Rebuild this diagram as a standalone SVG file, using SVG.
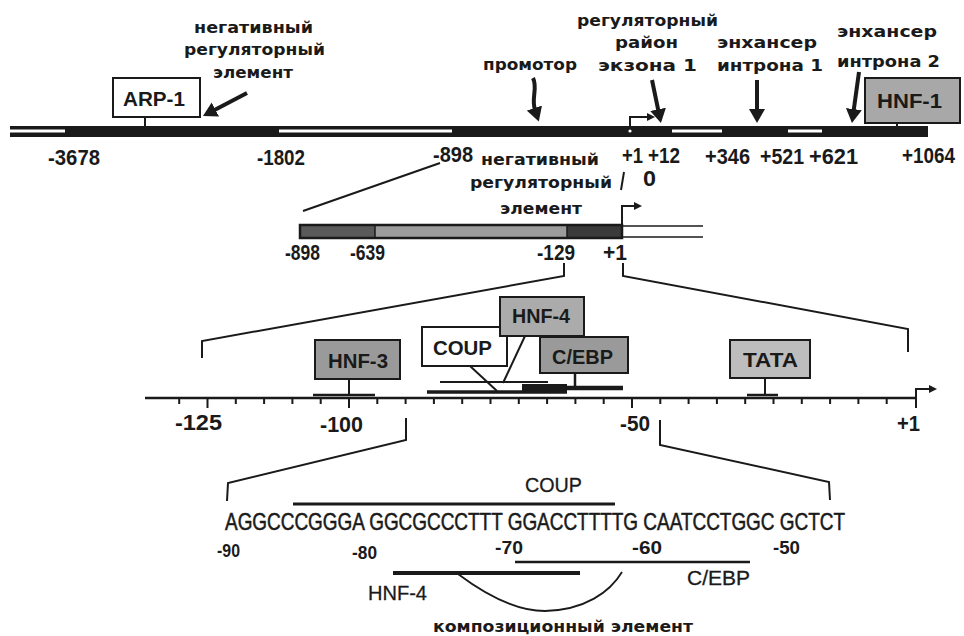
<svg xmlns="http://www.w3.org/2000/svg" width="964" height="636" viewBox="0 0 964 636">
<style>
.cy{font-family:"DejaVu Sans","Noto Sans",sans-serif;font-weight:bold;font-size:16px;fill:#1a1a1a}
.num{font-family:"Liberation Sans",Arial,sans-serif;font-weight:bold;font-size:22px;fill:#1a1a1a}
.snum{font-family:"Liberation Sans",Arial,sans-serif;font-weight:bold;font-size:19px;fill:#1a1a1a}
.lab{font-family:"Liberation Sans",Arial,sans-serif;font-weight:bold;font-size:21px;fill:#1a1a1a}
.seq{font-family:"Liberation Sans",Arial,sans-serif;font-size:19.5px;fill:#1a1a1a;stroke:#1a1a1a;stroke-width:0.45}
.reg{font-family:"Liberation Sans",Arial,sans-serif;font-size:21px;fill:#1a1a1a;stroke:#1a1a1a;stroke-width:0.3}
.box{stroke:#1a1a1a;stroke-width:2}
.ln{stroke:#1a1a1a;fill:none}
</style>
<defs>
<marker id="big" viewBox="0 0 16 16" refX="2" refY="8" markerWidth="16" markerHeight="16" markerUnits="userSpaceOnUse" orient="auto"><path d="M0,0 L14,8 L0,16 z" fill="#1a1a1a"/></marker>
<marker id="sm" viewBox="0 0 8 8" refX="1" refY="4" markerWidth="8" markerHeight="8" markerUnits="userSpaceOnUse" orient="auto"><path d="M0,0 L8,4 L0,8 z" fill="#1a1a1a"/></marker>
</defs>
<rect width="964" height="636" fill="#fff"/>

<g id="gene-band">
<rect x="10" y="126" width="918" height="11" fill="#1a1a1a"/>
<rect x="10" y="129.5" width="55" height="3" fill="#fff"/>
<rect x="279" y="129.5" width="173" height="3" fill="#fff"/>
<rect x="672" y="129.5" width="50" height="3" fill="#fff"/>
<rect x="788" y="129.5" width="34" height="3" fill="#fff"/>
<circle cx="630" cy="131" r="1.6" fill="#fff"/>
<text class="num" x="48" y="165" textLength="52" lengthAdjust="spacingAndGlyphs">-3678</text>
<text class="num" x="257" y="165" textLength="48" lengthAdjust="spacingAndGlyphs">-1802</text>
<text class="num" x="433" y="162" textLength="40" lengthAdjust="spacingAndGlyphs">-898</text>
<text class="num" x="622" y="163" textLength="21" lengthAdjust="spacingAndGlyphs">+1</text>
<text class="num" x="648" y="163" textLength="32" lengthAdjust="spacingAndGlyphs">+12</text>
<text class="num" x="643" y="186" textLength="13" lengthAdjust="spacingAndGlyphs">0</text>
<text class="num" x="705" y="164" textLength="45" lengthAdjust="spacingAndGlyphs">+346</text>
<text class="num" x="760" y="164" textLength="44" lengthAdjust="spacingAndGlyphs">+521</text>
<text class="num" x="809" y="164" textLength="49" lengthAdjust="spacingAndGlyphs">+621</text>
<text class="num" x="902" y="163" textLength="53" lengthAdjust="spacingAndGlyphs">+1064</text>
</g>

<g id="label-neg-top">
<text class="cy" x="194" y="33" textLength="119" lengthAdjust="spacingAndGlyphs">негативный</text>
<text class="cy" x="184" y="55" textLength="141" lengthAdjust="spacingAndGlyphs">регуляторный</text>
<text class="cy" x="213" y="78" textLength="80" lengthAdjust="spacingAndGlyphs">элемент</text>
</g>
<g id="label-promoter">
<text class="cy" x="483" y="70" textLength="94" lengthAdjust="spacingAndGlyphs">промотор</text>
</g>
<g id="label-exon">
<text class="cy" x="577" y="26" textLength="141" lengthAdjust="spacingAndGlyphs">регуляторный</text>
<text class="cy" x="615" y="48" textLength="63" lengthAdjust="spacingAndGlyphs">район</text>
<text class="cy" x="598" y="71" textLength="99" lengthAdjust="spacingAndGlyphs">экзона 1</text>
</g>
<g id="label-intron1">
<text class="cy" x="717" y="48" textLength="100" lengthAdjust="spacingAndGlyphs">энхансер</text>
<text class="cy" x="717" y="71" textLength="106" lengthAdjust="spacingAndGlyphs">интрона 1</text>
</g>
<g id="label-intron2">
<text class="cy" x="837" y="37" textLength="100" lengthAdjust="spacingAndGlyphs">энхансер</text>
<text class="cy" x="837" y="67" textLength="103" lengthAdjust="spacingAndGlyphs">интрона 2</text>
</g>

<g id="ARP-1">
<line class="ln" x1="145" y1="117" x2="145" y2="127" stroke-width="2"/>
<rect class="box" x="113" y="78" width="87" height="39" fill="#fff"/>
<text class="lab" x="123" y="106" textLength="62" lengthAdjust="spacingAndGlyphs">ARP-1</text>
</g>
<g id="HNF-1">
<line class="ln" x1="897" y1="123" x2="897" y2="127" stroke-width="2"/>
<rect class="box" x="865" y="78" width="95" height="45" fill="#a8a8a8"/>
<text class="lab" x="877" y="108" textLength="65" lengthAdjust="spacingAndGlyphs">HNF-1</text>
</g>

<g id="promoter-bar">
<rect x="300" y="225" width="75" height="13" fill="#5a5a5a"/>
<rect x="375" y="225" width="192" height="13" fill="#9c9c9c"/>
<rect x="567" y="225" width="55" height="13" fill="#3a3a3a"/>
<rect x="300" y="225" width="322" height="13" fill="none" stroke="#1a1a1a" stroke-width="2.5"/>
<line class="ln" x1="375" y1="225" x2="375" y2="238" stroke-width="1.5"/>
<line class="ln" x1="567" y1="225" x2="567" y2="238" stroke-width="1.5"/>
<line class="ln" x1="622" y1="226" x2="703" y2="226" stroke-width="1.5"/>
<line class="ln" x1="622" y1="237" x2="703" y2="237" stroke-width="1.5"/>
<text class="num" x="285" y="260" textLength="35" lengthAdjust="spacingAndGlyphs">-898</text>
<text class="num" x="350" y="260" textLength="35" lengthAdjust="spacingAndGlyphs">-639</text>
<text class="num" x="537" y="260" textLength="38" lengthAdjust="spacingAndGlyphs">-129</text>
<text class="num" x="603" y="260" textLength="24" lengthAdjust="spacingAndGlyphs">+1</text>
</g>
<g id="label-neg-mid">
<text class="cy" x="481" y="165" textLength="118" lengthAdjust="spacingAndGlyphs">негативный</text>
<text class="cy" x="470" y="188" textLength="142" lengthAdjust="spacingAndGlyphs">регуляторный</text>
<text class="cy" x="500" y="214" textLength="82" lengthAdjust="spacingAndGlyphs">элемент</text>
</g>

<g id="axis">
<line class="ln" x1="145" y1="398" x2="917" y2="398" stroke-width="2.5"/>
<path class="ln" stroke-width="2" d="M179.2,398v6 M207.5,398v10 M235.8,398v6 M264.1,398v6 M292.4,398v6 M320.7,398v6 M349,398v10 M377.3,398v6 M405.6,398v6 M433.9,398v6 M462.2,398v6 M490.5,398v6 M518.8,398v6 M547.1,398v6 M575.4,398v6 M603.7,398v6 M632,398v10 M660.3,398v6 M688.6,398v6 M716.9,398v6 M745.2,398v6 M773.5,398v6 M801.8,398v6 M830.1,398v6 M858.4,398v6 M886.7,398v6 M916,398v10"/>
<text class="num" x="175" y="430" textLength="47" lengthAdjust="spacingAndGlyphs">-125</text>
<text class="num" x="320" y="432" textLength="43" lengthAdjust="spacingAndGlyphs">-100</text>
<text class="num" x="620" y="431" textLength="30" lengthAdjust="spacingAndGlyphs">-50</text>
<text class="num" x="897" y="431" textLength="23" lengthAdjust="spacingAndGlyphs">+1</text>
</g>

<g id="HNF-3">
<line class="ln" x1="349" y1="379" x2="349" y2="395" stroke-width="2"/>
<line class="ln" x1="313" y1="395" x2="375" y2="395" stroke-width="2.5"/>
<rect class="box" x="315" y="340" width="85" height="39" fill="#9a9a9a"/>
<text class="lab" x="328" y="368" textLength="60" lengthAdjust="spacingAndGlyphs">HNF-3</text>
</g>
<g id="sites-cluster">
<line class="ln" x1="440" y1="382" x2="548" y2="382" stroke-width="1.8"/>
<line class="ln" x1="427" y1="392" x2="567" y2="392" stroke-width="3.5"/>
<rect x="522" y="384" width="45" height="9" fill="#1a1a1a"/>
<line class="ln" x1="560" y1="388" x2="623" y2="388" stroke-width="4.5"/>
</g>
<g id="COUP">
<line class="ln" x1="470" y1="366" x2="497" y2="391" stroke-width="2"/>
<rect class="box" x="422" y="327" width="85" height="39" fill="#fff"/>
<text class="lab" x="433" y="355" textLength="59" lengthAdjust="spacingAndGlyphs">COUP</text>
</g>
<g id="HNF-4">
<line class="ln" x1="525" y1="336" x2="503" y2="383" stroke-width="2"/>
<rect class="box" x="500" y="297" width="84" height="39" fill="#ababab"/>
<text class="lab" x="512" y="323" textLength="58" lengthAdjust="spacingAndGlyphs">HNF-4</text>
</g>
<g id="C-EBP">
<line class="ln" x1="575" y1="373" x2="575" y2="387" stroke-width="2.5"/>
<rect class="box" x="540" y="337" width="88" height="36" fill="#9a9a9a"/>
<text class="lab" x="552" y="364" textLength="61" lengthAdjust="spacingAndGlyphs">C/EBP</text>
</g>
<g id="TATA">
<line class="ln" x1="765" y1="378" x2="765" y2="395" stroke-width="2"/>
<line class="ln" x1="747" y1="395" x2="778" y2="395" stroke-width="2.5"/>
<rect class="box" x="730" y="340" width="80" height="38" fill="#bdbdbd"/>
<text class="lab" x="743" y="367" textLength="55" lengthAdjust="spacingAndGlyphs">TATA</text>
</g>

<g id="sequence">
<line class="ln" x1="293" y1="504" x2="615" y2="504" stroke-width="3"/>
<text class="reg" x="525" y="492" textLength="57" lengthAdjust="spacingAndGlyphs">COUP</text>
<text class="seq" transform="translate(225,530) scale(1,1.2)" x="0" y="0" textLength="620" lengthAdjust="spacingAndGlyphs" xml:space="preserve">AGGCCCGGGA GGCGCCCTTT GGACCTTTTG CAATCCTGGC GCTCT</text>
<text class="snum" x="217" y="557" textLength="23" lengthAdjust="spacingAndGlyphs">-90</text>
<text class="snum" x="352" y="559" textLength="25" lengthAdjust="spacingAndGlyphs">-80</text>
<text class="snum" x="495" y="554" textLength="28" lengthAdjust="spacingAndGlyphs">-70</text>
<text class="snum" x="632" y="554" textLength="30" lengthAdjust="spacingAndGlyphs">-60</text>
<text class="snum" x="773" y="554" textLength="27" lengthAdjust="spacingAndGlyphs">-50</text>
<line class="ln" x1="515" y1="562" x2="750" y2="562" stroke-width="2.5"/>
<line class="ln" x1="393" y1="573" x2="580" y2="573" stroke-width="4"/>
<text class="reg" x="368" y="600" textLength="59" lengthAdjust="spacingAndGlyphs">HNF-4</text>
<text class="reg" x="687" y="585" textLength="63" lengthAdjust="spacingAndGlyphs">C/EBP</text>
<path class="ln" stroke-width="1.8" d="M458,574 C490,598 518,611 545,611 C585,610 610,592 622,572"/>
<text class="cy" x="433" y="632" font-size="14" textLength="260" lengthAdjust="spacingAndGlyphs">композиционный  элемент</text>
</g>

<g id="connectors">
<path class="ln" stroke-width="4" d="M247,93 L213.6,110.4" marker-end="url(#big)"/>
<path class="ln" stroke-width="4" d="M533,78 C538,88 531,98 535,110" marker-end="url(#big)"/>
<path class="ln" stroke-width="4" d="M652,80 L658.5,111.3" marker-end="url(#big)"/>
<path class="ln" stroke-width="4" d="M757,80 L757,111" marker-end="url(#big)"/>
<path class="ln" stroke-width="4" d="M859,72 L853.6,111.1" marker-end="url(#big)"/>
<path class="ln" stroke-width="2" d="M630,128 V117 H648" marker-end="url(#sm)"/>
<path class="ln" stroke-width="2" d="M622,226 V206 H635" marker-end="url(#sm)"/>
<path class="ln" stroke-width="2" d="M916,398 V389 H930" marker-end="url(#sm)"/>
<path class="ln" stroke-width="2" d="M303,211 L440,163"/>
<path class="ln" stroke-width="2" d="M624,172 L621,190"/>
<path class="ln" stroke-width="2" d="M564,263 L564,276 L202,341 L202,358"/>
<path class="ln" stroke-width="2" d="M623,263 L623,276 L908,329 L908,352"/>
<path class="ln" stroke-width="2" d="M406,418 L406,440 L228,483 L227,501"/>
<path class="ln" stroke-width="2" d="M660,420 L660,445 L829,482 L830,500"/>
</g>
</svg>
